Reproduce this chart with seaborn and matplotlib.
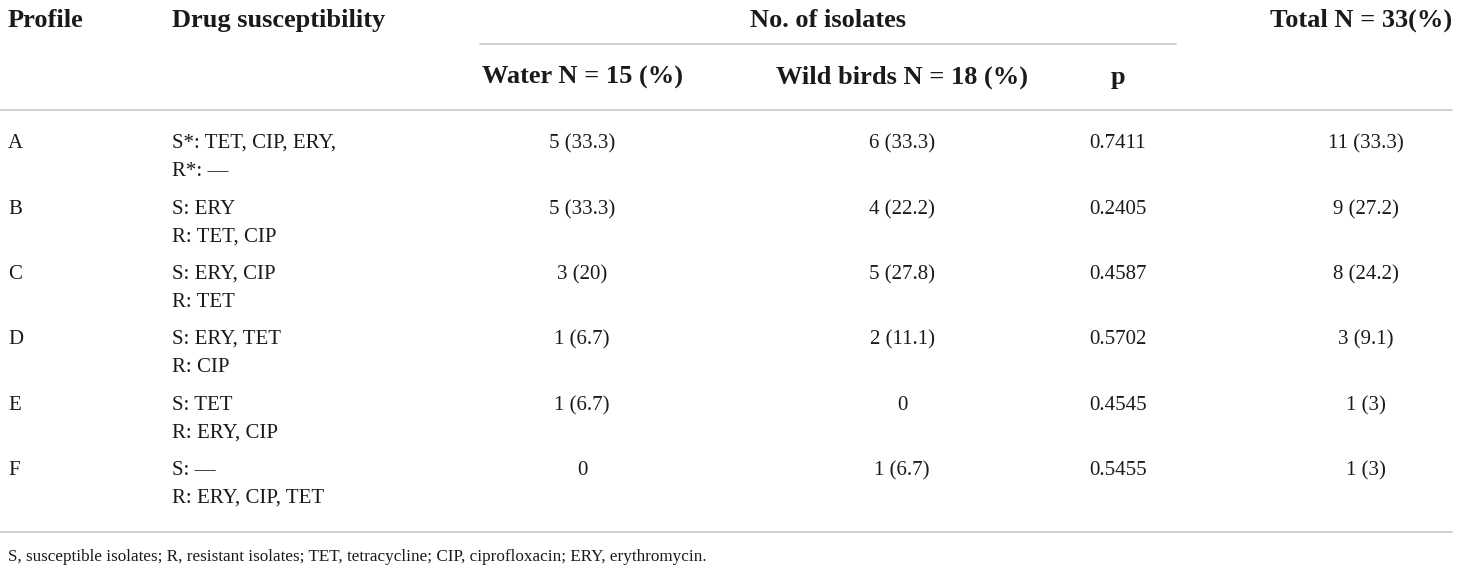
import matplotlib
matplotlib.use("Agg")
import matplotlib.pyplot as plt
import seaborn as sns

# table contents
profiles = ["A", "B", "C", "D", "E", "F"]
susceptible = ["S*: TET, CIP, ERY,", "S: ERY", "S: ERY, CIP", "S: ERY, TET", "S: TET", "S: \u2014"]
resistant = ["R*: \u2014", "R: TET, CIP", "R: TET", "R: CIP", "R: ERY, CIP", "R: ERY, CIP, TET"]
water = ["5 (33.3)", "5 (33.3)", "3 (20)", "1 (6.7)", "1 (6.7)", "0"]
wild_birds = ["6 (33.3)", "4 (22.2)", "5 (27.8)", "2 (11.1)", "0", "1 (6.7)"]
p_values = ["0.7411", "0.2405", "0.4587", "0.5702", "0.4545", "0.5455"]
totals = ["11 (33.3)", "9 (27.2)", "8 (24.2)", "3 (9.1)", "1 (3)", "1 (3)"]

footnote = ("S, susceptible isolates; R, resistant isolates; TET, tetracycline; "
            "CIP, ciprofloxacin; ERY, erythromycin.")

sns.set_style("white")
plt.rcParams['font.family'] = ['Liberation Serif', 'DejaVu Serif']

W, H = 1460, 572
fig = plt.figure(figsize=(W / 100, H / 100), dpi=100)
ax = fig.add_axes([0, 0, 1, 1])
ax.set_xlim(0, W)
ax.set_ylim(H, 0)
ax.axis('off')

line_color = '#c8c8c8'
head_size = 19
body_size = 15
head = dict(fontsize=head_size, fontweight='bold', va='baseline', color='#1a1a1a')
body = dict(fontsize=body_size, va='baseline', color='#1a1a1a')

# header
ax.text(8, 27, "Profile", **head)
ax.text(172, 27, "Drug susceptibility", **head)
ax.text(828, 27, "No. of isolates", ha='center', **head)
ax.text(1452, 27, "Total N = 33(%)", ha='right', **head)
ax.plot([480, 1176], [44, 44], color=line_color, lw=1.2)
ax.text(582, 84, "Water N = 15 (%)", ha='center', **head)
ax.text(902, 84, "Wild birds N = 18 (%)", ha='center', **head)
ax.text(1118, 84, "p", ha='center', **head)
ax.plot([0, 1452], [110, 110], color=line_color, lw=1.2)

# body rows
row_y = [148, 214, 279, 344, 410, 475]
for i, y in enumerate(row_y):
    ax.text(8, y, profiles[i], **body)
    ax.text(172, y, susceptible[i], **body)
    ax.text(172, y + 28, resistant[i], **body)
    ax.text(582, y, water[i], ha='center', **body)
    ax.text(902, y, wild_birds[i], ha='center', **body)
    ax.text(1118, y, p_values[i], ha='center', **body)
    ax.text(1366, y, totals[i], ha='center', **body)

ax.plot([0, 1452], [532, 532], color=line_color, lw=1.2)
ax.text(8, 561, footnote, fontsize=12.3, va='baseline', color='#1a1a1a')

fig.savefig("out.png", dpi=100)
